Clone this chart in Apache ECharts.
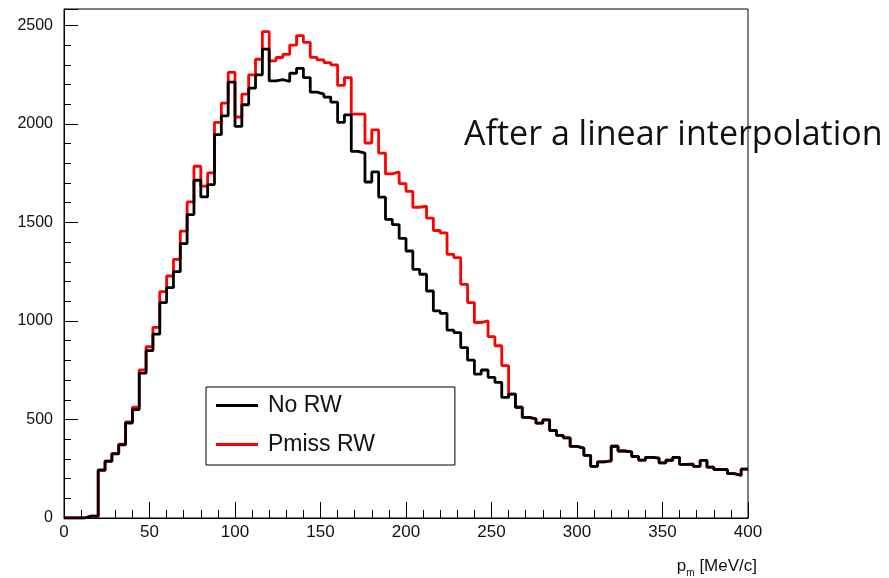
<!DOCTYPE html>
<html>
<head>
<meta charset="utf-8">
<script src="https://cdn.jsdelivr.net/npm/echarts@6/dist/echarts.min.js"></script>
<style>
html,body{margin:0;padding:0;background:#fff;}
#chart{width:889px;height:578px;}
</style>
</head>
<body>
<div id="chart"></div>
<script>
// Histogram binning (MeV/c): 100 bins of width 4 from 0 to 400
const binStart = 0;
const binWidth = 4;
const xTicks = [0, 50, 100, 150, 200, 250, 300, 350, 400];
const yTicks = [0, 500, 1000, 1500, 2000, 2500];

// "No RW" bin contents
const noRW = [
  0, 0, 0, 10, 10, 244, 287, 325, 371, 482,
  550, 735, 849, 933, 1093, 1169, 1250, 1392, 1540, 1714,
  1630, 1692, 1945, 2041, 2212, 1987, 2097, 2181, 2249, 2379,
  2218, 2225, 2215, 2257, 2282, 2235, 2161, 2151, 2136, 2110,
  2008, 2046, 1861, 1852, 1705, 1756, 1628, 1515, 1489, 1419,
  1355, 1262, 1237, 1152, 1051, 1038, 953, 941, 865, 801,
  730, 751, 714, 688, 612, 629, 562, 511, 503, 481,
  498, 444, 419, 407, 363, 355, 318, 262, 285, 290,
  364, 340, 336, 312, 294, 308, 304, 280, 293, 308,
  272, 273, 262, 292, 258, 246, 245, 225, 216, 248
];

// "Pmiss RW" bin contents (identical to No RW above 260 MeV/c, hidden below it)
const pmissRW = [
  0, 0, 0, 10, 10, 240, 290, 328, 375, 488,
  562, 752, 869, 967, 1149, 1228, 1312, 1456, 1604, 1785,
  1684, 1751, 2008, 2105, 2261, 2035, 2151, 2249, 2328, 2468,
  2320, 2337, 2353, 2400, 2448, 2414, 2338, 2325, 2311, 2299,
  2195, 2235, 2050, 2050, 1903, 1970, 1852, 1746, 1756, 1697,
  1658, 1577, 1582, 1522, 1459, 1447, 1338, 1321, 1186, 1093,
  992, 1000, 920, 874, 773, 629, 562, 511, 503, 481,
  498, 444, 419, 407, 363, 355, 318, 262, 285, 290,
  364, 340, 336, 312, 294, 308, 304, 280, 293, 308,
  272, 273, 262, 292, 258, 246, 245, 225, 216, 248
];

const seriesNames = ['No RW', 'Pmiss RW'];
const annotation = 'After a linear interpolation';

function histData(vals) {
  const d = vals.map((v, i) => [binStart + i * binWidth, v]);
  d.push([binStart + vals.length * binWidth, vals[vals.length - 1]]);
  return d;
}

const chart = echarts.init(document.getElementById('chart'), null, {renderer: 'canvas'});

const axisFont = "'Liberation Sans', Arial, Helvetica, sans-serif";
const narrowFont = "'Liberation Sans Narrow', " + axisFont;

chart.setOption({
  animation: false,
  backgroundColor: '#ffffff',
  grid: {
    left: 64, right: 141, top: 9, bottom: 57,
    show: true, borderColor: '#000', borderWidth: 1, backgroundColor: 'transparent'
  },
  xAxis: {
    type: 'value',
    min: xTicks[0], max: xTicks[xTicks.length - 1], interval: 50,
    axisLine: {show: true, onZero: false, lineStyle: {color: '#000', width: 1}},
    axisTick: {show: true, inside: true, length: 16, lineStyle: {color: '#000', width: 1}},
    minorTick: {show: true, splitNumber: 5, length: 8, lineStyle: {color: '#000', width: 1}},
    splitLine: {show: false},
    axisLabel: {
      fontFamily: narrowFont,
      fontSize: 17, color: '#111', margin: 6,
      formatter: function (v) { return String(v); }
    },
    name: 'p{sub|m} [MeV/c]',
    nameLocation: 'end',
    nameGap: 9,
    nameTextStyle: {
      fontFamily: narrowFont,
      fontSize: 17, color: '#111',
      align: 'right', verticalAlign: 'top',
      padding: [36, 0, 0, 0],
      rich: {
        sub: {fontSize: 10, padding: [14, 0, 0, 0], fontFamily: narrowFont, color: '#111'}
      }
    }
  },
  yAxis: {
    type: 'value',
    min: yTicks[0], max: 2583, interval: 500,
    axisLine: {show: true, lineStyle: {color: '#000', width: 1}},
    axisTick: {show: true, inside: true, length: 14, lineStyle: {color: '#000', width: 1}},
    minorTick: {show: true, splitNumber: 5, length: 7, lineStyle: {color: '#000', width: 1}},
    splitLine: {show: false},
    axisLabel: {
      fontFamily: axisFont, fontSize: 16, color: '#111', margin: 11,
      showMaxLabel: false,
      formatter: function (v) { return String(v); }
    }
  },
  legend: {
    data: seriesNames,
    orient: 'vertical',
    left: 206, top: 387,
    padding: [7, 80, 9, 10],
    itemGap: 16,
    itemWidth: 42,
    itemHeight: 3,
    icon: 'rect',
    borderColor: '#000',
    borderWidth: 1,
    backgroundColor: '#fff',
    textStyle: {
      fontFamily: axisFont, fontSize: 23, lineHeight: 22, color: '#111',
      padding: [0, 0, 0, 5]
    }
  },
  series: [
    {
      name: seriesNames[1],
      type: 'line',
      step: 'end',
      showSymbol: false,
      symbol: 'none',
      color: '#ff0000',
      itemStyle: {color: '#ff0000'},
      lineStyle: {color: '#ff0000', width: 2.8},
      data: histData(pmissRW),
      z: 2
    },
    {
      name: seriesNames[0],
      type: 'line',
      step: 'end',
      showSymbol: false,
      symbol: 'none',
      color: '#000000',
      itemStyle: {color: '#000000'},
      lineStyle: {color: '#000000', width: 2.8},
      data: histData(noRW),
      z: 3
    }
  ],
  graphic: [
    {
      type: 'text',
      left: 464, top: 118,
      z: 100,
      style: {
        text: annotation,
        fontFamily: "'Open Sans', Lato, sans-serif",
        fontSize: 34,
        fill: '#111'
      }
    }
  ]
});
</script>
</body>
</html>
